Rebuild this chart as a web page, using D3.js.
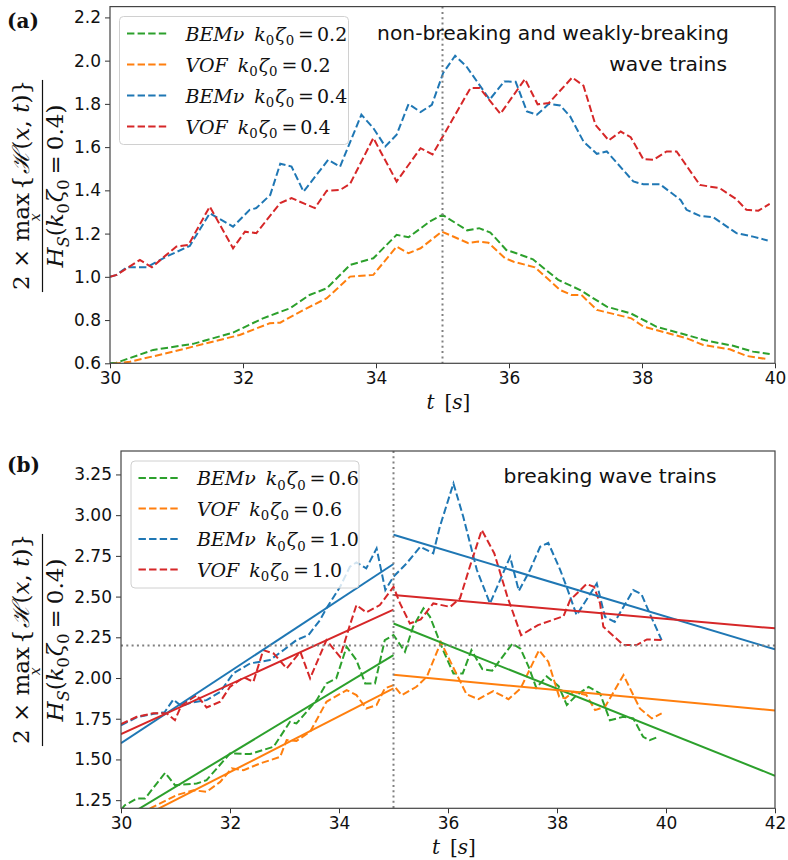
<!DOCTYPE html>
<html><head><meta charset="utf-8">
<script src="https://cdn.jsdelivr.net/npm/d3@7"></script>
<style>body{margin:0;background:#fff}</style>
</head><body>
<script>
// ---------- DATA ----------
const xTicksA = [30,32,34,36,38,40];
const yTicksA = [0.6,0.8,1.0,1.2,1.4,1.6,1.8,2.0,2.2];
const xTicksB = [30,32,34,36,38,40,42];
const yTicksB = [1.25,1.5,1.75,2.0,2.25,2.5,2.75,3.0,3.25];

const bem02 = [[30.0,0.600],[30.1,0.603],[30.65,0.662],[31.25,0.69],[31.85,0.742],[32.3,0.808],[32.71,0.855],[33.0,0.916],[33.26,0.947],[33.61,1.055],[33.96,1.086],[34.31,1.194],[34.49,1.183],[34.81,1.256],[35.0,1.287],[35.37,1.215],[35.55,1.225],[35.72,1.205],[35.96,1.124],[36.11,1.109],[36.36,1.081],[36.74,0.986],[37.07,0.939],[37.47,0.862],[37.83,0.831],[38.22,0.769],[38.67,0.731],[38.97,0.705],[39.37,0.681],[39.67,0.654],[39.92,0.643]];
const vof02 = [[30.05,0.598],[30.3,0.607],[30.95,0.654],[31.65,0.708],[31.95,0.731],[32.4,0.785],[32.56,0.788],[32.91,0.847],[33.26,0.901],[33.61,1.001],[33.96,1.009],[34.31,1.14],[34.49,1.109],[34.67,1.132],[34.99,1.209],[35.39,1.156],[35.54,1.163],[35.69,1.158],[35.94,1.086],[36.07,1.070],[36.39,1.044],[36.77,0.939],[36.94,0.916],[37.09,0.916],[37.32,0.847],[37.84,0.808],[38.02,0.770],[38.67,0.716],[38.92,0.685],[39.32,0.665],[39.57,0.634],[39.89,0.619]];
const bem04 = [[30.0,1.0],[30.1,1.009],[30.25,1.044],[30.55,1.044],[30.85,1.094],[31.2,1.143],[31.5,1.294],[31.85,1.232],[32.1,1.31],[32.2,1.318],[32.41,1.379],[32.56,1.523],[32.73,1.51],[32.91,1.394],[33.28,1.541],[33.46,1.51],[33.78,1.75],[33.96,1.688],[34.14,1.603],[34.31,1.657],[34.49,1.80],[34.67,1.762],[34.84,1.796],[35.01,1.943],[35.19,2.023],[35.36,1.973],[35.71,1.82],[35.93,1.904],[36.1,1.902],[36.27,1.765],[36.42,1.75],[36.6,1.8],[36.77,1.793],[36.92,1.742],[37.12,1.626],[37.32,1.569],[37.47,1.58],[37.87,1.441],[38.02,1.428],[38.27,1.428],[38.58,1.356],[38.67,1.31],[38.87,1.282],[39.07,1.276],[39.42,1.202],[39.67,1.186],[39.89,1.168]];
const vof04 = [[30.0,1.0],[30.1,1.009],[30.45,1.078],[30.63,1.044],[30.83,1.097],[31.0,1.14],[31.18,1.148],[31.5,1.325],[31.85,1.132],[32.03,1.209],[32.2,1.202],[32.56,1.341],[32.73,1.364],[33.08,1.318],[33.26,1.398],[33.46,1.402],[33.61,1.43],[33.96,1.642],[34.31,1.441],[34.67,1.595],[34.85,1.566],[35.42,1.873],[35.56,1.873],[35.87,1.754],[36.24,1.915],[36.43,1.798],[36.6,1.804],[36.95,1.922],[37.12,1.884],[37.3,1.703],[37.5,1.631],[37.68,1.672],[37.83,1.646],[38.02,1.544],[38.17,1.541],[38.37,1.58],[38.52,1.58],[38.87,1.425],[39.17,1.41],[39.42,1.359],[39.57,1.31],[39.75,1.306],[39.92,1.337]];

const bem06 = [[30.0,1.19],[30.07,1.219],[30.29,1.26],[30.44,1.26],[30.81,1.418],[30.99,1.342],[31.39,1.352],[31.57,1.373],[32.0,1.537],[32.37,1.533],[32.8,1.578],[33.1,1.731],[33.22,1.721],[33.59,1.864],[33.77,1.967],[33.95,1.998],[34.14,2.192],[34.32,2.11],[34.48,1.967],[34.66,1.967],[34.84,2.233],[35.0,2.264],[35.21,2.161],[35.36,2.315],[35.55,2.428],[35.67,2.376],[35.91,2.171],[36.1,2.028],[36.27,2.028],[36.43,2.171],[36.63,2.055],[36.81,2.045],[37.18,2.21],[37.33,2.18],[37.48,2.069],[37.62,1.94],[37.81,2.01],[38.03,1.95],[38.18,1.834],[38.36,1.895],[38.58,1.946],[38.79,1.905],[38.97,1.741],[39.22,1.762],[39.4,1.752],[39.58,1.639],[39.7,1.618],[39.86,1.639]];
const vof06 = [[30.35,1.17],[30.59,1.209],[31.02,1.281],[31.33,1.311],[31.57,1.301],[31.82,1.362],[32.03,1.445],[32.25,1.434],[32.55,1.475],[32.92,1.516],[33.04,1.619],[33.22,1.614],[33.47,1.67],[33.77,1.854],[34.14,1.926],[34.32,1.895],[34.5,1.813],[34.69,1.834],[34.84,1.936],[35.0,1.956],[35.15,1.895],[35.42,1.946],[35.61,2.007],[35.87,2.22],[36.06,2.09],[36.34,1.9],[36.56,1.87],[36.83,1.92],[37.11,1.87],[37.33,1.935],[37.67,2.171],[37.84,2.1],[38.04,1.885],[38.15,1.875],[38.3,1.915],[38.54,1.895],[38.7,1.803],[38.88,1.823],[39.22,2.018],[39.52,1.813],[39.74,1.752],[39.92,1.783]];
const bem10 = [[30.0,1.71],[30.3,1.76],[30.6,1.78],[30.8,1.79],[30.96,1.868],[31.11,1.827],[31.3,1.85],[31.57,1.864],[31.82,1.915],[32.06,2.028],[32.37,2.09],[32.73,2.11],[32.98,2.171],[33.22,2.233],[33.44,2.264],[33.65,2.355],[33.77,2.428],[34.02,2.56],[34.2,2.683],[34.32,2.71],[34.5,2.673],[34.69,2.796],[34.85,2.54],[35.0,2.622],[35.24,2.704],[35.49,2.806],[35.73,2.766],[35.85,2.929],[36.1,3.195],[36.28,2.99],[36.53,2.663],[36.77,2.458],[37.14,2.744],[37.3,2.535],[37.5,2.66],[37.69,2.806],[37.84,2.83],[38.06,2.663],[38.18,2.556],[38.36,2.386],[38.73,2.58],[38.88,2.376],[39.06,2.345],[39.4,2.54],[39.55,2.515],[39.7,2.397],[39.92,2.233]];
const vof10 = [[30.0,1.717],[30.29,1.762],[30.59,1.783],[30.84,1.783],[30.99,1.741],[31.11,1.834],[31.39,1.895],[31.57,1.819],[31.82,1.854],[32.0,1.946],[32.25,2.004],[32.43,1.977],[32.61,2.171],[32.8,2.151],[33.04,2.059],[33.29,2.161],[33.47,1.998],[33.77,2.233],[34.02,2.13],[34.2,2.325],[34.32,2.448],[34.5,2.403],[34.75,2.448],[35.0,2.56],[35.12,2.458],[35.3,2.335],[35.5,2.36],[35.73,2.458],[36.04,2.437],[36.22,2.489],[36.4,2.683],[36.62,2.909],[36.85,2.765],[37.09,2.499],[37.34,2.263],[37.65,2.325],[37.95,2.36],[38.12,2.38],[38.24,2.478],[38.54,2.577],[38.68,2.56],[38.79,2.458],[38.85,2.315],[39.22,2.202],[39.46,2.202],[39.65,2.237],[39.92,2.233]];

// piecewise linear fits (before/after t = 35)
const fitBem06 = [[[30,1.13],[35,2.14]], [[35,2.335],[42,1.40]]];
const fitVof06 = [[[30,1.08],[35,1.936]], [[35,2.02],[42,1.80]]];
const fitBem10 = [[[30,1.60],[35,2.70]], [[35,2.88],[42,2.176]]];
const fitVof10 = [[[30,1.655],[35,2.42]], [[35,2.51],[42,2.305]]];

const legendA = [["BEMν","0.2"],["VOF","0.2"],["BEMν","0.4"],["VOF","0.4"]];
const legendB = [["BEMν","0.6"],["VOF","0.6"],["BEMν","1.0"],["VOF","1.0"]];

// ---------- DRAW ----------
const COL = {blue:"#1f77b4", orange:"#ff7f0e", green:"#2ca02c", red:"#d62728"};
const W = 788, H = 860;
const svg = d3.select("body").append("svg").attr("width",W).attr("height",H)
  .style("font-family","'DejaVu Sans', sans-serif");
const MATH = "'DejaVu Serif', serif";

// parts: [text, style, dx]; style 'i' italic, 'r' roman, 's' subscript roman, 'si' subscript italic
function mathParts(text, parts, size){
  let shift = 0;
  parts.forEach(([s, st, dx])=>{
    const t = text.append("tspan").text(s);
    const sub = st[0]==='s';
    const target = sub ? size*0.25 : 0;
    if (target !== shift){ t.attr("dy", target - shift); shift = target; }
    if (dx) t.attr("dx", dx);
    t.attr("font-size", sub ? size*0.7 : size)
     .attr("font-style", (st==='i'||st==='si') ? "italic" : "normal");
  });
  return text;
}
function mtext(parent, x, y, parts, size, anchor){
  const t = parent.append("text").attr("x",x).attr("y",y).attr("font-family",MATH)
    .attr("fill","#111").attr("text-anchor",anchor||"start");
  return mathParts(t, parts, size);
}

function panel(o){
  const g = svg.append("g");
  const x = d3.scaleLinear().domain(o.xd).range([o.left, o.right]);
  const y = d3.scaleLinear().domain(o.yd).range([o.bottom, o.top]);
  const clipId = "clip"+o.id;
  svg.append("clipPath").attr("id",clipId).append("rect")
    .attr("x",o.left).attr("y",o.top).attr("width",o.right-o.left).attr("height",o.bottom-o.top);
  const pg = g.append("g").attr("clip-path",`url(#${clipId})`);
  const line = d3.line().x(d=>x(d[0])).y(d=>y(d[1]));

  o.series.forEach(s=>{
    pg.append("path").attr("d", line(s.data)).attr("fill","none")
      .attr("stroke", s.color).attr("stroke-width",2)
      .attr("stroke-dasharray","7.4,3.2");
  });
  (o.fits||[]).forEach(f=>{
    f.data.forEach(seg=>{
      pg.append("path").attr("d", line(seg)).attr("fill","none")
        .attr("stroke", f.color).attr("stroke-width",2);
    });
  });
  pg.append("line").attr("x1",x(35)).attr("x2",x(35)).attr("y1",o.top).attr("y2",o.bottom)
    .attr("stroke","#808080").attr("stroke-width",2).attr("stroke-dasharray","2,3.3");
  if (o.hline!==undefined){
    pg.append("line").attr("x1",o.left).attr("x2",o.right).attr("y1",y(o.hline)).attr("y2",y(o.hline))
      .attr("stroke","#808080").attr("stroke-width",2).attr("stroke-dasharray","2,3.3");
  }

  const xa = g.append("g").attr("transform",`translate(0,${o.bottom})`)
    .call(d3.axisBottom(x).tickValues(o.xticks).tickSize(5).tickPadding(4).tickFormat(d3.format("d")));
  const ya = g.append("g").attr("transform",`translate(${o.left},0)`)
    .call(d3.axisLeft(y).tickValues(o.yticks).tickSize(5).tickPadding(4).tickFormat(d3.format(o.yfmt)));
  [xa,ya].forEach(a=>{
    a.select(".domain").remove();
    a.selectAll(".tick line").attr("stroke","#333").attr("stroke-width",1);
    a.selectAll(".tick text").attr("font-size",17).attr("fill","#111")
      .attr("font-family","'DejaVu Sans', sans-serif");
  });
  g.append("rect").attr("x",o.left).attr("y",o.top).attr("width",o.right-o.left)
    .attr("height",o.bottom-o.top).attr("fill","none").attr("stroke","#444").attr("stroke-width",1.2);

  // legend
  const L = o.legend;
  const lg = g.append("g");
  lg.append("rect").attr("x",L.x).attr("y",L.y).attr("width",L.w).attr("height",L.h)
    .attr("rx",4).attr("fill","white").attr("fill-opacity",0.8)
    .attr("stroke","#d0d0d0").attr("stroke-width",1);
  L.items.forEach((it,i)=>{
    const cy = L.y + 17 + i*L.step;
    lg.append("line").attr("x1",L.x+7.5).attr("x2",L.x+49).attr("y1",cy).attr("y2",cy)
      .attr("stroke",it.color).attr("stroke-width",2).attr("stroke-dasharray","7.4,3.2");
    mtext(lg, L.x+66, cy+7, [[it.lab[0],'i'],["k",'i',10],["0",'s'],["ζ",'i',1],["0",'s'],["=",'r',4],[it.lab[1],'r',3]], 19);
  });

  o.notes.forEach(n=>{
    g.append("text").attr("x",n.x).attr("y",n.y).attr("text-anchor",n.anchor)
      .attr("font-size",20.3).attr("fill","#111").text(n.text);
  });

  g.append("text").attr("x",7).attr("y",o.top+21).attr("font-family","'DejaVu Serif', serif")
    .attr("font-weight","bold").attr("font-size",20).attr("fill","#111").text(o.label);

  const cx = (o.left+o.right)/2;
  mtext(g, cx-16, o.bottom+46, [["t",'i']], 20);
  mtext(g, cx+2, o.bottom+46, [["[",'r'],["s",'i'],["]",'r']], 20);

  // y axis title (fraction), rotated
  const FS = 23;
  const yg = g.append("g").attr("transform",`translate(${o.ylabX},${o.ylabY})rotate(-90)`);
  const pA = mtext(yg, 0, -12, [["2 × max",'r']], FS);
  const pM = mtext(yg, 0, -12, [["max",'r']], FS).attr("visibility","hidden");
  const pX = mtext(yg, 0, -1.5, [["x",'i']], 14);
  const pB = mtext(yg, 0, -12, [["{",'r'],["ℋ",'i',1],["(",'r',1],["x",'i'],[", ",'r'],["t",'i'],[")}",'r']], FS);
  const wA = pA.node().getComputedTextLength(), wM = pM.node().getComputedTextLength();
  const wX = pX.node().getComputedTextLength(), wB = pB.node().getComputedTextLength();
  const tot = wA + 3 + wB, x0 = -tot/2;
  pA.attr("x", x0);
  pX.attr("x", x0 + wA - wM/2 - wX/2);
  pB.attr("x", x0 + wA + 3);
  pM.remove();
  yg.append("line").attr("x1",x0-2).attr("x2",x0+tot+2).attr("y1",1.5).attr("y2",1.5)
    .attr("stroke","#111").attr("stroke-width",1.2);
  mtext(yg, 0, 22, [["H",'i'],["S",'si'],["(",'r'],["k",'i'],["0",'s'],["ζ",'i',1],["0",'s'],["=",'r',5],["0.4",'r',5],[")",'r']], FS, "middle");
}

panel({
  id:"a", label:"(a)", xd:[30,40], yd:[0.6,2.25], left:110, right:775, top:6.6, bottom:363.3,
  xticks:xTicksA, yticks:yTicksA, yfmt:".1f", ylabX:41, ylabY:186,
  series:[{data:bem02,color:COL.green},{data:vof02,color:COL.orange},{data:bem04,color:COL.blue},{data:vof04,color:COL.red}],
  legend:{x:119.5,y:16.5,w:229,h:128,step:31,
    items:[{lab:legendA[0],color:COL.green},{lab:legendA[1],color:COL.orange},{lab:legendA[2],color:COL.blue},{lab:legendA[3],color:COL.red}]},
  notes:[{x:553,y:40,anchor:"middle",text:"non-breaking and weakly-breaking"},{x:727,y:71,anchor:"end",text:"wave trains"}]
});

panel({
  id:"b", label:"(b)", xd:[30,42], yd:[1.2,3.394], left:121, right:775, top:451, bottom:808.3,
  xticks:xTicksB, yticks:yTicksB, yfmt:".2f", ylabX:41, ylabY:640, hline:2.2,
  series:[{data:bem06,color:COL.green},{data:vof06,color:COL.orange},{data:bem10,color:COL.blue},{data:vof10,color:COL.red}],
  fits:[{data:fitBem06,color:COL.green},{data:fitVof06,color:COL.orange},{data:fitBem10,color:COL.blue},{data:fitVof10,color:COL.red}],
  legend:{x:131,y:461,w:228,h:127,step:30.5,
    items:[{lab:legendB[0],color:COL.green},{lab:legendB[1],color:COL.orange},{lab:legendB[2],color:COL.blue},{lab:legendB[3],color:COL.red}]},
  notes:[{x:610,y:483,anchor:"middle",text:"breaking wave trains"}]
});
</script>
</body></html>
